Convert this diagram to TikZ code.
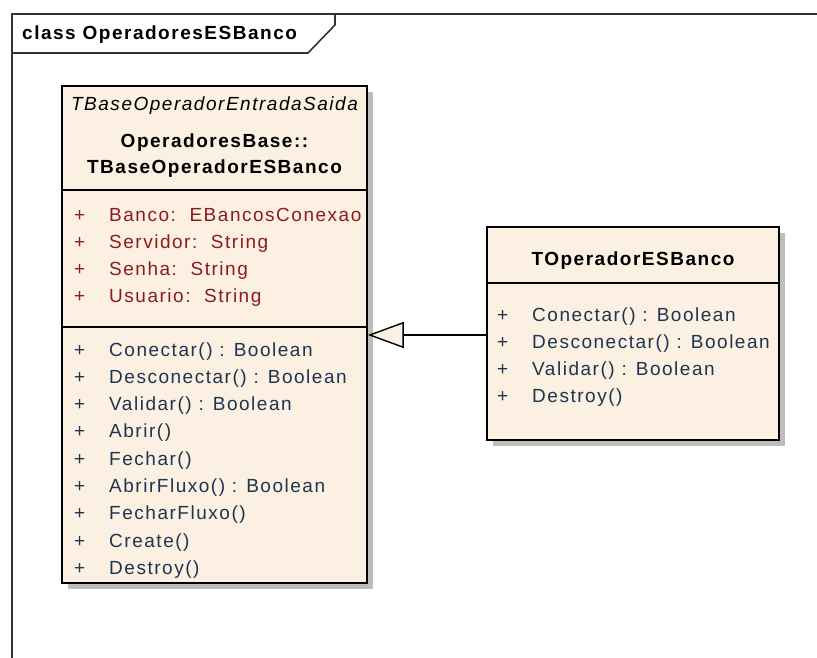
\documentclass[tikz,border=0pt]{standalone}
\usepackage{fontspec}
\setmainfont{Liberation Sans}[LetterSpace=8]
\usetikzlibrary{arrows.meta,shadows}

\definecolor{classfill}{HTML}{FBF0E1}
\definecolor{attrcol}{HTML}{8E1B1B}
\definecolor{opcol}{HTML}{1D3550}
\definecolor{shadowcol}{HTML}{BDBDBD}
\definecolor{framecol}{HTML}{333333}

\begin{document}
\begin{tikzpicture}[x=1pt,y=-1pt,
  every node/.style={inner sep=0pt, font=\fontsize{19}{23}\selectfont},
  frameline/.style={draw=framecol, line width=1.6pt},
  classbox/.style={draw=black, fill=classfill, line width=1.6pt, inner sep=0pt,
    general shadow={fill=shadowcol, shadow xshift=6pt, shadow yshift=-6pt}},
  sepline/.style={draw=black, line width=1.6pt},
  header/.style={anchor=base},
  member/.style={anchor=base west},
  attr/.style={member, text=attrcol},
  oper/.style={member, text=opcol},
  generalization/.style={draw=black, line width=1.6pt,
    -{Triangle[length=36pt, width=26pt, fill=classfill, line width=1.4pt]}},
]
\useasboundingbox (0,0) rectangle (817,658);

% diagram frame with its name tab
\draw[frameline] (12,658) -- (12,14) -- (817,14);
\draw[frameline] (12,53) -- (308,53) -- (335,25) -- (335,14);
\node[anchor=base west, font=\fontsize{19}{23}\selectfont\bfseries] (frametitle) at (22,40) {class OperadoresESBanco};

% base class
\node[classbox, minimum width=305pt, minimum height=497pt] (base) at (214.5,334.5) {};
\node[header, font=\fontsize{19}{23}\selectfont\itshape] (basestereo) at (214.5,111) {TBaseOperadorEntradaSaida};
\node[header, font=\fontsize{19}{23}\selectfont\bfseries] (basepkg) at (214.5,148) {OperadoresBase::};
\node[header, font=\fontsize{19}{23}\selectfont\bfseries] (basename) at (214.5,174) {TBaseOperadorESBanco};
\draw[sepline] (base.west |- 0,190) -- (base.east |- 0,190);
\draw[sepline] (base.west |- 0,327) -- (base.east |- 0,327);

\foreach \txt [count=\i] in {Banco:\ \ EBancosConexao, Servidor:\ \ String, Senha:\ \ String, Usuario:\ \ String}
  \node[attr] (battr\i) at (74, 221+27.2*\i-27.2) {\makebox[35pt][l]{+}\txt};

\foreach \txt [count=\i] in {Conectar() : Boolean, Desconectar() : Boolean, Validar() : Boolean, Abrir(), Fechar(), AbrirFluxo() : Boolean, FecharFluxo(), Create(), Destroy()}
  \node[oper] (bop\i) at (74, 356+27.3*\i-27.3) {\makebox[35pt][l]{+}\txt};

% derived class
\node[classbox, minimum width=292pt, minimum height=213pt] (derived) at (633,333.5) {};
\node[header, font=\fontsize{19}{23}\selectfont\bfseries] (derivedname) at (633,265) {TOperadorESBanco};
\draw[sepline] (derived.west |- 0,283) -- (derived.east |- 0,283);

\foreach \txt [count=\i] in {Conectar() : Boolean, Desconectar() : Boolean, Validar() : Boolean, Destroy()}
  \node[oper] (dop\i) at (497, 321+27.3*\i-27.3) {\makebox[35pt][l]{+}\txt};

% generalization
\draw[generalization] (derived.west |- 0,335) -- (base.east |- 0,335);
\end{tikzpicture}
\end{document}
